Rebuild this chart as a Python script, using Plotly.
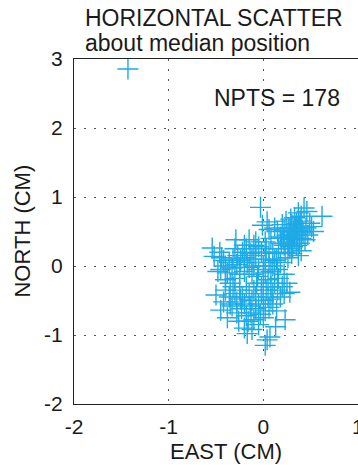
import plotly.graph_objects as go

# Scatter points (EAST, NORTH) in cm
east = [
    -1.43,
    # upper-right group
    0.43, 0.37, 0.46, 0.40, 0.62, 0.33, 0.35, 0.49, 0.51, 0.53, 0.45, 0.42, 0.38, 0.30,
    0.27, 0.22, 0.25, 0.28, 0.32, 0.36, 0.33, 0.30, 0.26, 0.40, 0.44, 0.38, 0.35, 0.31,
    0.28, 0.22, 0.18, 0.15, 0.12, 0.20, 0.24, 0.29, 0.39, 0.41, 0.47, 0.34, 0.19, 0.16,
    0.23, 0.30, 0.40, 0.37, 0.26, 0.14, 0.10, 0.06, 0.04, -0.01, 0.06, -0.03, 0.08, 0.02,
    0.32, 0.29, 0.36, 0.27, 0.21,
    # middle group
    -0.29, -0.15, -0.10, -0.05, -0.18, -0.22, -0.27, -0.32, -0.36, -0.40, -0.45, -0.42,
    -0.38, -0.33, -0.28, -0.24, -0.20, -0.14, -0.08, -0.02, 0.02, 0.06, 0.10, 0.12, 0.00,
    -0.05, -0.10, -0.15, -0.20, -0.25, -0.30, -0.12, -0.06, 0.02, 0.08, 0.05, 0.00, 0.15,
    0.18, -0.17, -0.35, -0.40, -0.44, -0.48, -0.54, -0.52, -0.46, -0.20, -0.08, 0.03,
    -0.25, -0.12, -0.30,
    # lower group
    -0.50, -0.45, -0.40, -0.36, -0.32, -0.30, -0.28, -0.25, -0.22, -0.20, -0.18, -0.15,
    -0.12, -0.10, -0.08, -0.05, -0.02, 0.00, 0.03, 0.05, 0.08, 0.10, 0.12, 0.15, 0.18,
    0.20, 0.22, 0.25, 0.28, 0.06, 0.02, -0.03, -0.08, -0.13, -0.18, -0.23, -0.28, -0.33,
    -0.38, -0.42, -0.16, -0.10, -0.05, 0.00, -0.20, -0.17, 0.13, 0.23, 0.04, 0.02, 0.07,
    -0.12, -0.26, 0.10, 0.14, -0.35, -0.07, -0.02, 0.16, 0.22, -0.14, -0.24, 0.08,
]
north = [
    2.855,
    0.84, 0.77, 0.79, 0.72, 0.72, 0.70, 0.62, 0.62, 0.57, 0.50, 0.55, 0.48, 0.58, 0.60,
    0.55, 0.52, 0.45, 0.48, 0.50, 0.45, 0.40, 0.38, 0.35, 0.40, 0.38, 0.33, 0.30, 0.28,
    0.25, 0.30, 0.42, 0.50, 0.55, 0.60, 0.65, 0.68, 0.65, 0.52, 0.45, 0.55, 0.33, 0.25,
    0.20, 0.18, 0.22, 0.15, 0.12, 0.10, 0.18, 0.20, 0.64, 0.59, 0.53, 0.85, 0.40, 0.35,
    0.45, 0.42, 0.52, 0.30, 0.40,
    0.38, 0.38, 0.30, 0.28, 0.25, 0.20, 0.15, 0.10, 0.05, 0.00, -0.05, 0.08,
    -0.10, -0.03, 0.02, 0.08, 0.12, 0.18, 0.15, 0.20, 0.10, 0.05, 0.00, 0.08, 0.00,
    -0.05, 0.00, -0.02, -0.08, -0.12, -0.18, -0.12, -0.15, -0.10, -0.08, -0.20, -0.25, -0.05,
    0.05, 0.05, -0.25, -0.20, 0.12, -0.08, 0.26, 0.14, 0.20, 0.30, 0.35, 0.25,
    -0.02, 0.10, 0.25,
    -0.42, -0.64, -0.35, -0.45, -0.30, -0.40, -0.52, -0.35, -0.45, -0.55, -0.30, -0.40,
    -0.50, -0.35, -0.45, -0.55, -0.40, -0.50, -0.35, -0.45, -0.30, -0.40, -0.25, -0.35, -0.45,
    -0.30, -0.40, -0.25, -0.38, -0.60, -0.65, -0.70, -0.62, -0.68, -0.72, -0.62, -0.68, -0.58,
    -0.75, -0.52, -0.80, -0.78, -0.85, -0.75, -0.90, -0.98, -0.88, -0.78, -1.07, -1.15, -1.03,
    -0.92, -0.80, -0.55, -0.65, -0.55, -0.25, -0.30, -0.18, -0.12, -0.58, -0.48, -0.48,
]

x_ticks = [-2, -1, 0, 1]
y_ticks = [-2, -1, 0, 1, 2, 3]
npts_label = "NPTS = %d" % len(east)

FONT = "Liberation Sans, Arial, Helvetica, sans-serif"
TXT = "#1a1a1a"

fig = go.Figure()
fig.add_trace(go.Scatter(
    x=east, y=north, mode="markers",
    marker=dict(symbol="cross-thin", size=15, line=dict(color="#1EAAE6", width=1.4)),
    hoverinfo="skip",
))

fig.update_layout(
    width=358, height=465,
    margin=dict(l=74, r=0, t=59, b=61),
    paper_bgcolor="white", plot_bgcolor="white",
    showlegend=False,
    font=dict(family=FONT, size=21, color=TXT),
    xaxis=dict(
        range=[-2, 1], tickvals=x_ticks, ticktext=[str(v) for v in x_ticks],
        showgrid=True, gridcolor="#555555", gridwidth=1, griddash="2px,8px",
        zeroline=False, showline=True, linecolor="#222222", linewidth=1, mirror=True,
        ticks="", tickfont=dict(size=21, color=TXT), ticklabelstandoff=4,
    ),
    yaxis=dict(
        range=[-2, 3], tickvals=y_ticks, ticktext=[str(v) for v in y_ticks],
        showgrid=True, gridcolor="#555555", gridwidth=1, griddash="2px,8px",
        zeroline=False, showline=True, linecolor="#222222", linewidth=1, mirror=False,
        ticks="", tickfont=dict(size=21, color=TXT), ticklabelstandoff=6,
    ),
    annotations=[
        dict(text="HORIZONTAL SCATTER", xref="paper", yref="paper", x=0.03, y=1.12,
             xanchor="left", yanchor="middle", showarrow=False, font=dict(size=23)),
        dict(text="about median position", xref="paper", yref="paper", x=0.03, y=1.047,
             xanchor="left", yanchor="middle", showarrow=False, font=dict(size=23)),
        dict(text=npts_label, xref="x", yref="y", x=0.83, y=2.435,
             xanchor="right", yanchor="middle", showarrow=False, font=dict(size=23)),
        dict(text="EAST (CM)", xref="paper", yref="paper", x=0.535, y=-0.139,
             xanchor="center", yanchor="middle", showarrow=False, font=dict(size=22)),
        dict(text="NORTH (CM)", xref="paper", yref="paper", x=-0.183, y=0.5,
             xanchor="center", yanchor="middle", textangle=-90, showarrow=False,
             font=dict(size=22)),
        dict(text="1", xref="x", yref="paper", x=1.0, y=-0.066,
             xanchor="center", yanchor="middle", showarrow=False, font=dict(size=21)),
    ],
)

fig.write_html("out.html")
